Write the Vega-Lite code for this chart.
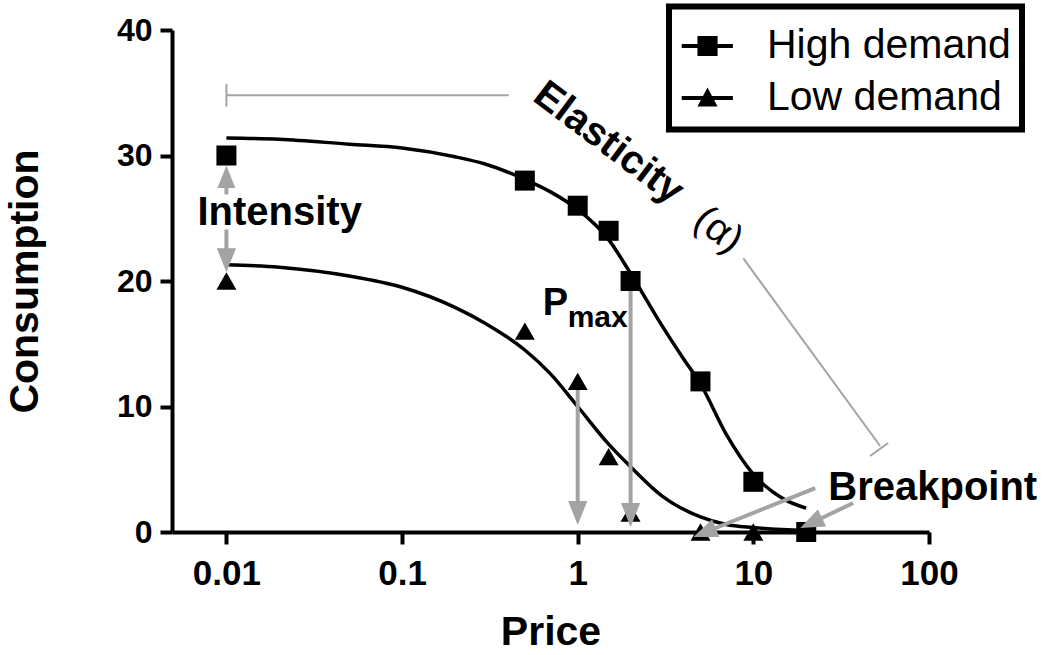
{
  "$schema": "https://vega.github.io/schema/vega-lite/v6.json",
  "width": 757,
  "height": 502,
  "autosize": "none",
  "padding": {"left": 172, "top": 30, "right": 121, "bottom": 123},
  "background": "white",
  "config": {
    "view": {"stroke": null},
    "font": "Liberation Sans",
    "legend": {"strokeWidth": 6},
    "axis": {
      "labelFont": "Liberation Sans",
      "titleFont": "Liberation Sans",
      "labelFontWeight": "bold",
      "titleFontWeight": "bold",
      "labelColor": "black",
      "titleColor": "black",
      "domainColor": "black",
      "tickColor": "black",
      "domainWidth": 4,
      "tickWidth": 4,
      "tickSize": 12,
      "grid": false,
      "labelFlush": false,
      "labelOverlap": false,
      "titleFontSize": 41
    }
  },
  "datasets": {
    "curves": [
      {"series": "High demand", "price": 0.01, "q": 31.4},
      {"series": "High demand", "price": 0.02, "q": 31.3},
      {"series": "High demand", "price": 0.05, "q": 30.9},
      {"series": "High demand", "price": 0.1, "q": 30.6},
      {"series": "High demand", "price": 0.2, "q": 29.9},
      {"series": "High demand", "price": 0.3, "q": 29.3},
      {"series": "High demand", "price": 0.5, "q": 28.1},
      {"series": "High demand", "price": 0.7, "q": 27.1},
      {"series": "High demand", "price": 1, "q": 25.7},
      {"series": "High demand", "price": 1.5, "q": 23.3},
      {"series": "High demand", "price": 2, "q": 20.6},
      {"series": "High demand", "price": 3, "q": 16.5},
      {"series": "High demand", "price": 4, "q": 13.8},
      {"series": "High demand", "price": 5, "q": 11.8},
      {"series": "High demand", "price": 7, "q": 7.8},
      {"series": "High demand", "price": 10, "q": 4.6},
      {"series": "High demand", "price": 15, "q": 2.6},
      {"series": "High demand", "price": 20, "q": 1.9},
      {"series": "Low demand", "price": 0.01, "q": 21.3},
      {"series": "Low demand", "price": 0.02, "q": 21.1},
      {"series": "Low demand", "price": 0.05, "q": 20.4},
      {"series": "Low demand", "price": 0.1, "q": 19.5},
      {"series": "Low demand", "price": 0.2, "q": 17.9},
      {"series": "Low demand", "price": 0.3, "q": 16.6},
      {"series": "Low demand", "price": 0.5, "q": 14.5},
      {"series": "Low demand", "price": 0.7, "q": 12.6},
      {"series": "Low demand", "price": 1, "q": 10.0},
      {"series": "Low demand", "price": 1.5, "q": 7.0},
      {"series": "Low demand", "price": 2, "q": 5.2},
      {"series": "Low demand", "price": 3, "q": 2.9},
      {"series": "Low demand", "price": 5, "q": 1.2},
      {"series": "Low demand", "price": 7, "q": 0.6},
      {"series": "Low demand", "price": 10, "q": 0.35},
      {"series": "Low demand", "price": 20, "q": 0.1}
    ],
    "points": [
      {"series": "High demand", "price": 0.01, "q": 30},
      {"series": "High demand", "price": 0.5, "q": 28},
      {"series": "High demand", "price": 1, "q": 26},
      {"series": "High demand", "price": 1.5, "q": 24},
      {"series": "High demand", "price": 2, "q": 20},
      {"series": "High demand", "price": 5, "q": 12},
      {"series": "High demand", "price": 10, "q": 4},
      {"series": "High demand", "price": 20, "q": 0},
      {"series": "Low demand", "price": 0.01, "q": 20},
      {"series": "Low demand", "price": 0.5, "q": 16},
      {"series": "Low demand", "price": 1, "q": 12},
      {"series": "Low demand", "price": 1.5, "q": 6},
      {"series": "Low demand", "price": 2, "q": 1.5},
      {"series": "Low demand", "price": 5, "q": 0},
      {"series": "Low demand", "price": 10, "q": 0}
    ],
    "segments": [
      {"kind": "bracket", "price": 0.01, "q": 34.8, "price2": 0.405, "q2": 34.8},
      {"kind": "bracket", "price": 0.01, "q": 35.7, "price2": 0.01, "q2": 33.9},
      {"kind": "bracket", "price": 8.77, "q": 21.8, "price2": 52.7, "q2": 6.85},
      {"kind": "bracket", "price": 46.2, "q": 6.06, "price2": 58.5, "q2": 7.09},
      {"kind": "arrow", "price": 0.01, "q": 26.9, "price2": 0.01, "q2": 28.4},
      {"kind": "arrow", "price": 0.01, "q": 24.1, "price2": 0.01, "q2": 21.5},
      {"kind": "arrow", "price": 1, "q": 11.7, "price2": 1, "q2": 1.4},
      {"kind": "arrow", "price": 2, "q": 19.8, "price2": 2, "q2": 1.3},
      {"kind": "arrow", "price": 22.5, "q": 3.5, "price2": 5.27, "q2": -0.04},
      {"kind": "arrow", "price": 37.0, "q": 2.31, "price2": 21.4, "q2": 0.72}
    ],
    "heads": [
      {"dir": "down", "price": 0.01, "q": 20.7},
      {"dir": "down", "price": 1, "q": 0.56},
      {"dir": "down", "price": 2, "q": 0.4},
      {"dir": "up", "price": 0.01, "q": 29.2},
      {"dir": "bp1", "price": 4.56, "q": -0.4},
      {"dir": "bp2", "price": 18.5, "q": 0.32}
    ]
  },
  "encoding": {
    "x": {
      "field": "price",
      "type": "quantitative",
      "scale": {"type": "log", "domain": [0.0049, 100], "nice": false},
      "axis": {
        "title": "Price",
        "values": [0.01, 0.1, 1, 10, 100],
        "format": "~g",
        "labelFontSize": 35,
        "labelPadding": 12,
        "titlePadding": 21
      }
    },
    "y": {
      "field": "q",
      "type": "quantitative",
      "scale": {"domain": [0, 40], "nice": false},
      "axis": {
        "title": "Consumption",
        "values": [0, 10, 20, 30, 40],
        "labelFontSize": 32,
        "labelPadding": 8,
        "titlePadding": 70
      }
    }
  },
  "layer": [
    {
      "data": {"name": "curves"},
      "mark": {"type": "line", "interpolate": "monotone", "color": "black", "strokeWidth": 3.5},
      "encoding": {"detail": {"field": "series", "type": "nominal"}}
    },
    {
      "data": {"name": "segments"},
      "transform": [{"filter": "datum.kind === 'bracket'"}],
      "mark": {"type": "rule", "color": "#a3a3a3", "strokeWidth": 2},
      "encoding": {"x2": {"field": "price2"}, "y2": {"field": "q2"}}
    },
    {
      "data": {"name": "segments"},
      "transform": [{"filter": "datum.kind === 'arrow'"}],
      "mark": {"type": "rule", "color": "#a3a3a3", "strokeWidth": 4},
      "encoding": {"x2": {"field": "price2"}, "y2": {"field": "q2"}}
    },
    {
      "data": {"name": "points"},
      "transform": [{"filter": "datum.series === 'High demand'"}],
      "mark": {"type": "point", "shape": "square", "filled": true, "opacity": 1, "size": 400, "color": "black"}
    },
    {
      "data": {"name": "points"},
      "transform": [{"filter": "datum.series === 'Low demand'"}],
      "mark": {"type": "point", "shape": "triangle-up", "filled": true, "opacity": 1, "size": 400, "color": "black"}
    },
    {
      "data": {"name": "points"},
      "transform": [{"filter": "false"}],
      "mark": {"type": "point", "filled": true, "opacity": 1, "color": "black"},
      "encoding": {
        "shape": {
          "field": "series",
          "type": "nominal",
          "scale": {
            "domain": ["High demand", "Low demand"],
            "range": [
              "M-0.92,-0.09H1.52V0.09H-0.92ZM-0.17,-0.48H0.79V0.48H-0.17Z",
              "M-0.92,-0.09H1.52V0.09H-0.92ZM0.31,-0.5L0.79,0.4H-0.17Z"
            ]
          },
          "legend": {
            "title": " ",
            "titleFontSize": 1,
            "titlePadding": 6.5,
            "orient": "none",
            "legendX": 497,
            "legendY": -23.5,
            "labelFont": "Liberation Sans",
            "labelFontSize": 41,
            "labelColor": "black",
            "labelLimit": 0,
            "labelOffset": 45,
            "symbolSize": 1764,
            "symbolFillColor": "black",
            "symbolStrokeColor": "black",
            "symbolStrokeWidth": 0,
            "symbolOpacity": 1,
            "padding": 11,
            "rowPadding": 11,
            "strokeColor": "black"
          }
        }
      }
    },
    {
      "data": {"name": "heads"},
      "transform": [{"filter": "datum.dir === 'down'"}],
      "mark": {"type": "point", "shape": "M0,0L-0.8,-2L0.8,-2Z", "filled": true, "opacity": 1, "size": 576, "color": "#a3a3a3"}
    },
    {
      "data": {"name": "heads"},
      "transform": [{"filter": "datum.dir === 'up'"}],
      "mark": {"type": "point", "shape": "M0,0L-0.8,-2L0.8,-2Z", "angle": 180, "filled": true, "opacity": 1, "size": 500, "color": "#a3a3a3"}
    },
    {
      "data": {"name": "heads"},
      "transform": [{"filter": "datum.dir === 'bp1'"}],
      "mark": {"type": "point", "shape": "M0,0L-0.8,-2L0.8,-2Z", "angle": 68, "filled": true, "opacity": 1, "size": 576, "color": "#a3a3a3"}
    },
    {
      "data": {"name": "heads"},
      "transform": [{"filter": "datum.dir === 'bp2'"}],
      "mark": {"type": "point", "shape": "M0,0L-0.8,-2L0.8,-2Z", "angle": 65, "filled": true, "opacity": 1, "size": 576, "color": "#a3a3a3"}
    },
    {
      "data": {"values": [{"price": 0.00684, "q": 24.46, "label": "Intensity"}]},
      "mark": {"type": "text", "align": "left", "baseline": "alphabetic", "font": "Liberation Sans", "fontWeight": "bold", "fontSize": 40, "color": "black"},
      "encoding": {"text": {"field": "label"}}
    },
    {
      "data": {"values": [{"price": 0.633, "q": 17.3, "label": "P"}]},
      "mark": {"type": "text", "align": "left", "baseline": "alphabetic", "font": "Liberation Sans", "fontWeight": "bold", "fontSize": 38, "color": "black"},
      "encoding": {"text": {"field": "label"}}
    },
    {
      "data": {"values": [{"price": 0.877, "q": 16.3, "label": "max"}]},
      "mark": {"type": "text", "align": "left", "baseline": "alphabetic", "font": "Liberation Sans", "fontWeight": "bold", "fontSize": 30, "color": "black"},
      "encoding": {"text": {"field": "label"}}
    },
    {
      "data": {"values": [{"price": 26.7, "q": 2.55, "label": "Breakpoint"}]},
      "mark": {"type": "text", "align": "left", "baseline": "alphabetic", "font": "Liberation Sans", "fontWeight": "bold", "fontSize": 40, "color": "black"},
      "encoding": {"text": {"field": "label"}}
    },
    {
      "data": {"values": [{"price": 1.5, "q": 31.0, "label": "Elasticity"}]},
      "mark": {"type": "text", "align": "center", "baseline": "middle", "angle": 37, "font": "Liberation Sans", "fontWeight": "bold", "fontSize": 40, "color": "black"},
      "encoding": {"text": {"field": "label"}}
    },
    {
      "data": {"values": [{"price": 6.32, "q": 24.06, "label": "(α)"}]},
      "mark": {"type": "text", "align": "center", "baseline": "middle", "angle": 37, "font": "Liberation Sans", "fontWeight": "normal", "fontSize": 40, "color": "black"},
      "encoding": {"text": {"field": "label"}}
    }
  ]
}
